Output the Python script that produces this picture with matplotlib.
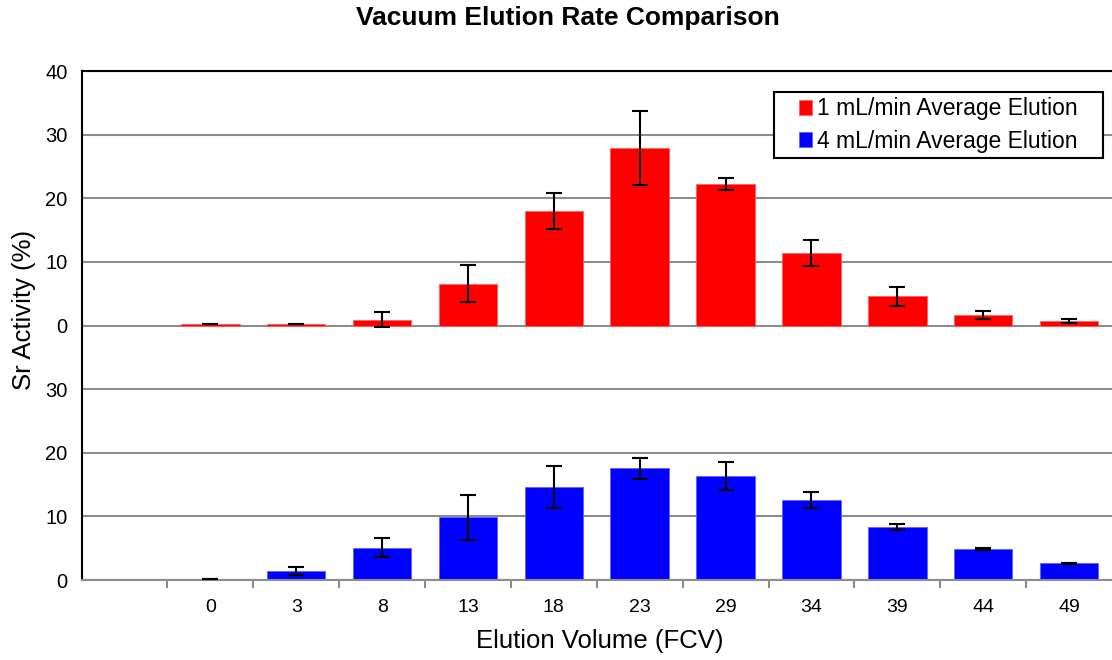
import matplotlib
matplotlib.use("Agg")
import matplotlib.pyplot as plt
from matplotlib.patches import Rectangle
import numpy as np

plt.rcParams['font.family'] = ['Liberation Sans', 'DejaVu Sans']

categories = ["", "0", "3", "8", "13", "18", "23", "29", "34", "39", "44", "49"]
red_vals = [np.nan, 0.25, 0.25, 0.9, 6.6, 18.0, 27.9, 22.2, 11.4, 4.6, 1.6, 0.75]
red_err = [np.nan, 0.0, 0.0, 1.2, 2.9, 2.9, 5.8, 0.95, 2.1, 1.5, 0.65, 0.3]
blue_vals = [np.nan, 0.15, 1.4, 5.1, 9.85, 14.6, 17.55, 16.35, 12.6, 8.35, 4.9, 2.6]
blue_err = [np.nan, 0.0, 0.65, 1.55, 3.55, 3.3, 1.6, 2.15, 1.3, 0.5, 0.15, 0.1]
red_offset = 40
ytick_vals = [0, 10, 20, 30, 40, 50, 60, 70, 80]
ytick_labels = ["0", "10", "20", "30", "0", "10", "20", "30", "40"]

W, H = 1112, 660
fig = plt.figure(figsize=(W / 100, H / 100), dpi=100)
ax = fig.add_axes([0.0733, 0.1212, 0.9267, 0.7712])

x = np.arange(len(categories))
w = 0.68
ax.set_axisbelow(True)
ax.yaxis.grid(True, color='#8c8c8c', linewidth=1.5)

ax.bar(x, red_vals, width=w, bottom=red_offset, color='#ff0000', edgecolor='#ff6060',
       linewidth=0.6, label='1 mL/min Average Elution', zorder=2)
ax.errorbar(x, np.array(red_vals) + red_offset, yerr=red_err, fmt='none', ecolor='black',
            elinewidth=1.5, capsize=6, capthick=1.5, zorder=3)
ax.bar(x, blue_vals, width=w, color='#0000ff', edgecolor='#6060ff',
       linewidth=0.6, label='4 mL/min Average Elution', zorder=2)
ax.errorbar(x, blue_vals, yerr=blue_err, fmt='none', ecolor='black',
            elinewidth=1.5, capsize=6, capthick=1.5, zorder=3)

ax.set_xlim(-0.5, len(categories) - 0.5)
ax.set_ylim(0, 80)
ax.set_yticks(ytick_vals)
ax.set_yticklabels(ytick_labels, fontsize=14.5)
ax.set_xticks(x)
ax.set_xticklabels(categories, fontsize=14)
ax.set_xticks(np.arange(0.5, len(categories) - 0.5, 1), minor=True)
ax.tick_params(axis='x', which='major', length=0, pad=14)
ax.tick_params(axis='x', which='minor', length=6, color='#8c8c8c', width=1.5)
ax.tick_params(axis='y', length=0, pad=10)

for s in ['top', 'left']:
    ax.spines[s].set_color('black')
    ax.spines[s].set_linewidth(1.5)
ax.spines['bottom'].set_color('#8c8c8c')
ax.spines['bottom'].set_linewidth(1.5)
ax.spines['right'].set_visible(False)

fig.text(600 / W, 1 - 641 / H, 'Elution Volume (FCV)', fontsize=18.5, ha='center', va='center')
fig.text(24 / W, 1 - 310 / H, 'Sr Activity (%)', fontsize=18.5, rotation=90, ha='center', va='center')
fig.text(568 / W, 1 - 18 / H, 'Vacuum Elution Rate Comparison', fontsize=19, fontweight='bold',
         ha='center', va='center')

# legend frame
frame = Rectangle((774 / W, 1 - 158 / H), (1103 - 774) / W, (158 - 92) / H,
                  transform=fig.transFigure, facecolor='white', edgecolor='black',
                  linewidth=1.5, zorder=4)
fig.add_artist(frame)
handles, labels = ax.get_legend_handles_labels()
leg = fig.legend(handles, labels, loc='center', bbox_to_anchor=(938 / W, 1 - 125 / H),
                 fontsize=16.5, frameon=False, handlelength=0.6, handleheight=0.6,
                 handletextpad=0.2, borderpad=0.0, labelspacing=0.4)
leg.set_zorder(5)

fig.savefig('out.png', dpi=100)
